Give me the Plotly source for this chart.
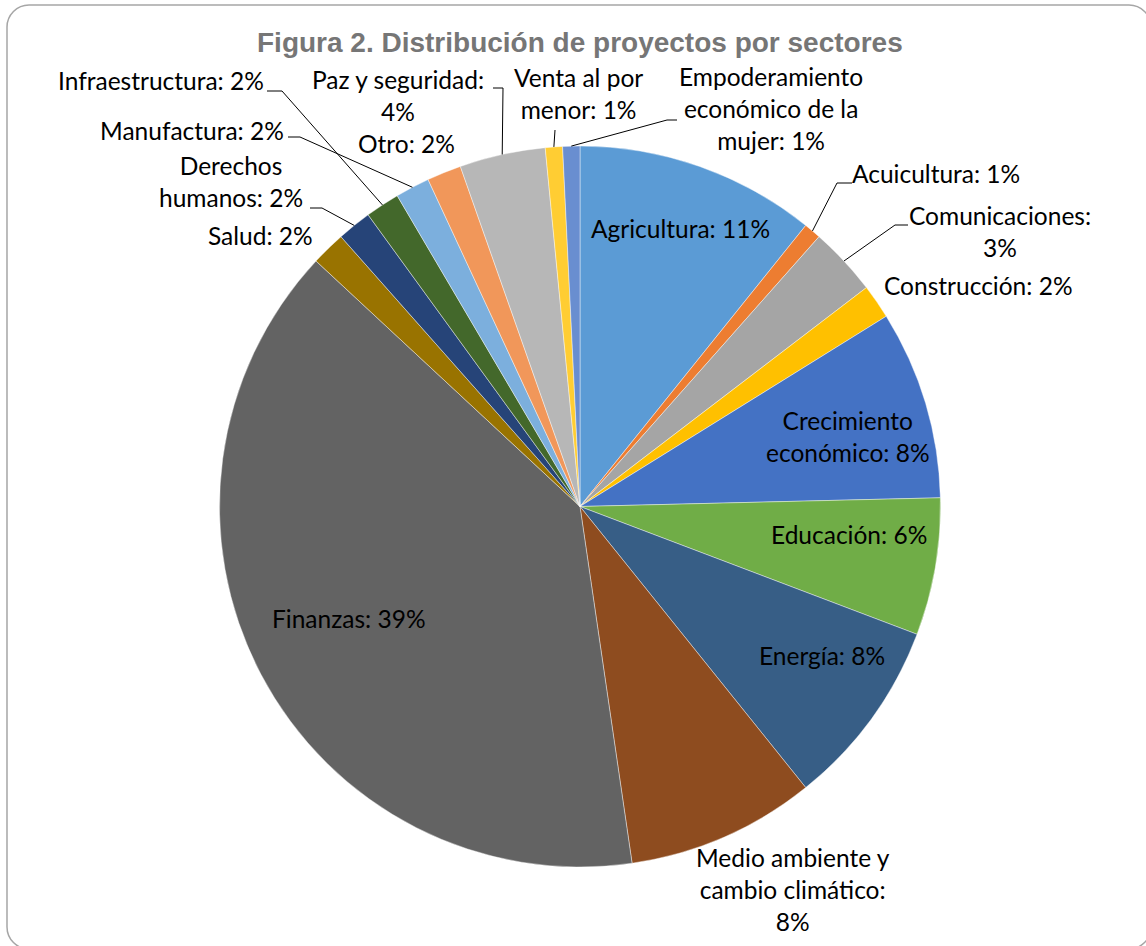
import math
import plotly.graph_objects as go

# ---------------- data ----------------
sectors = [
    "Agricultura", "Acuicultura", "Comunicaciones", "Construcción",
    "Crecimiento económico", "Educación", "Energía",
    "Medio ambiente y cambio climático", "Finanzas", "Salud",
    "Derechos humanos", "Infraestructura", "Manufactura", "Otro",
    "Paz y seguridad", "Venta al por menor",
    "Empoderamiento económico de la mujer",
]
projects = [14, 1, 4, 2, 11, 8, 11, 11, 51, 2, 2, 2, 2, 2, 5, 1, 1]
colors = [
    "#5B9BD5", "#ED7D31", "#A5A5A5", "#FFC000", "#4472C4", "#70AD47",
    "#375E86", "#8E4C1F", "#636363", "#997300", "#264478", "#43682B",
    "#7CAFDD", "#F1975A", "#B7B7B7", "#FFCD33", "#698ED0",
]
# label texts as shown in the chart (line breaks as in the picture)
label_texts = [
    "Agricultura: 11%", "Acuicultura: 1%", "Comunicaciones:<br>3%",
    "Construcción: 2%", "Crecimiento<br>económico: 8%", "Educación: 6%",
    "Energía: 8%", "Medio ambiente y<br>cambio climático:<br>8%",
    "Finanzas: 39%", "Salud: 2%", "Derechos<br>humanos: 2%",
    "Infraestructura: 2%", "Manufactura: 2%", "Otro: 2%",
    "Paz y seguridad:<br>4%", "Venta al por<br>menor: 1%",
    "Empoderamiento<br>económico de la<br>mujer: 1%",
]
title_text = "Figura 2. Distribución de proyectos por sectores"

# ---------------- layout (pixels) ----------------
W, H = 1146, 946
CX, CY, R = 580.0, 506.5, 360.5
TEXT_DY = -3  # font baseline correction

def px(x):
    return x / W

def py(y):
    return 1 - y / H

# label anchor positions: (x, y)
label_pos = [
    (680, 231), (936, 177), (1000, 234),
    (978, 288), (848, 439), (849, 537),
    (822, 658), (793, 892), (349, 621),
    (260, 239), (231, 185), (161, 84),
    (192, 133), (406, 146), (398, 98),
    (578, 96), (771, 112),
]
# leader line elbows (start point, elbow point) for outside labels
leaders = {
    "Infraestructura": [(267, 91), (282, 91)],
    "Manufactura": [(288, 137), (300, 137)],
    "Derechos humanos": [(310, 208), (322, 208)],
    "Paz y seguridad": [(493, 88), (503, 88)],
    "Venta al por menor": [(555, 130), (555, 130)],
    "Empoderamiento económico de la mujer": [(677, 120), (667, 120)],
    "Acuicultura": [(852, 183), (837, 183)],
    "Comunicaciones": [(908, 225), (895, 225)],
}

fig = go.Figure()
fig.add_trace(go.Pie(
    labels=sectors, values=projects, sort=False, direction="clockwise",
    rotation=0, textinfo="none", hoverinfo="label+percent",
    marker=dict(colors=colors, line=dict(color="rgba(255,255,255,0.6)", width=0.7)),
    domain=dict(x=[px(CX - R), px(CX + R)], y=[py(CY + R), py(CY - R)]),
    showlegend=False,
))

# ---------------- annotations ----------------
annotations = []
for txt, (x, y) in zip(label_texts, label_pos):
    annotations.append(dict(
        x=px(x), y=py(y + TEXT_DY), xref="paper", yref="paper", text=txt,
        showarrow=False, xanchor="center", yanchor="middle", align="center",
        font=dict(family="Lato, Carlito, Calibri, sans-serif", size=24.5, color="#000000"),
    ))
annotations.append(dict(
    x=px(580), y=py(43), xref="paper", yref="paper", text="<b>" + title_text + "</b>",
    showarrow=False, xanchor="center", yanchor="middle",
    font=dict(family="Liberation Sans, Arial, sans-serif", size=28, color="#767676"),
))

# ---------------- shapes: leader lines + chart border ----------------
shapes = []
total = sum(projects)
cum = 0
for name, v in zip(sectors, projects):
    mid = (cum + v / 2) / total * 2 * math.pi
    cum += v
    if name in leaders:
        (x0, y0), (x1, y1) = leaders[name]
        ex = CX + R * math.sin(mid)
        ey = CY - R * math.cos(mid)
        path = f"M {px(x0)} {py(y0)} L {px(x1)} {py(y1)} L {px(ex)} {py(ey)}"
        shapes.append(dict(type="path", xref="paper", yref="paper", path=path,
                           line=dict(color="#000000", width=1)))

# rounded chart border
bx0, by0, bx1, by1, rr = 7, 5, 1151, 949, 22
k = 0.45
def P(x, y):
    return f"{px(x)},{py(y)}"
border = (
    f"M {P(bx0 + rr, by0)} L {P(bx1 - rr, by0)} "
    f"C {P(bx1 - rr * k, by0)} {P(bx1, by0 + rr * k)} {P(bx1, by0 + rr)} "
    f"L {P(bx1, by1 - rr)} "
    f"C {P(bx1, by1 - rr * k)} {P(bx1 - rr * k, by1)} {P(bx1 - rr, by1)} "
    f"L {P(bx0 + rr, by1)} "
    f"C {P(bx0 + rr * k, by1)} {P(bx0, by1 - rr * k)} {P(bx0, by1 - rr)} "
    f"L {P(bx0, by0 + rr)} "
    f"C {P(bx0, by0 + rr * k)} {P(bx0 + rr * k, by0)} {P(bx0 + rr, by0)} Z"
)
shapes.append(dict(type="path", xref="paper", yref="paper", path=border,
                   line=dict(color="#A6A6A6", width=1.5), layer="below"))

fig.update_layout(
    width=W, height=H, margin=dict(l=0, r=0, t=0, b=0),
    paper_bgcolor="white", plot_bgcolor="white",
    annotations=annotations, shapes=shapes,
)

fig.write_html(
    "out.html",
    config={"displayModeBar": False},
    post_script="document.body.style.margin='0px';document.body.style.overflow='hidden';",
)
